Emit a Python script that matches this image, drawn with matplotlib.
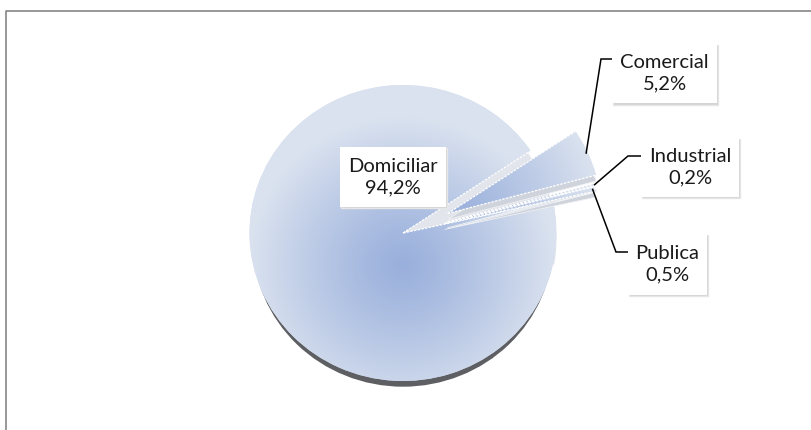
import numpy as np
import matplotlib.pyplot as plt
from matplotlib.patches import Wedge, Rectangle

# datos: consumo por tipo de usuario
categorias = ['Domiciliar', 'Comercial', 'Industrial', 'Publica']
porcentajes = [94.2, 5.2, 0.2, 0.5]
separacion = [0.0, 0.32, 0.30, 0.28]   # fracción del radio

W, H = 812, 430
ESC_Y = 0.964          # achatado vertical (efecto 3D)
GROSOR = 6             # grosor de las porciones, px

plt.rcParams['font.family'] = ['Lato', 'DejaVu Sans']

fig = plt.figure(figsize=(W / 100, H / 100), dpi=100)
ax = fig.add_axes([0, 0, 1, 1])


def px(x, y):
    # coordenadas de pantalla (origen arriba-izquierda) -> datos
    return x, (H - y) / ESC_Y


c_in = np.array([154, 176, 220]) / 255
c_out = np.array([218, 226, 239]) / 255


def degradado(cuna, foco_dy, z):
    x0, y0 = cuna.center
    r = cuna.r
    n = 300
    X, Y = np.meshgrid(np.linspace(x0 - r, x0 + r, n), np.linspace(y0 - r, y0 + r, n))
    d = np.hypot(X - x0, Y - (y0 + foco_dy)) / r
    t = np.clip(d, 0, 1) ** 1.2
    rgb = (1 - t)[..., None] * c_in + t[..., None] * c_out
    im = ax.imshow(rgb, extent=(x0 - r, x0 + r, y0 - r, y0 + r), origin='lower',
                   aspect='auto', interpolation='bilinear', zorder=z)
    im.set_clip_path(cuna)


def bordes(cuna, z):
    x0, y0 = cuna.center
    for th in (cuna.theta1, cuna.theta2):
        a = np.radians(th)
        ax.plot([x0, x0 + cuna.r * np.cos(a)], [y0, y0 + cuna.r * np.sin(a)],
                color='white', lw=0.9, ls=(0, (2, 1)), zorder=z)


cx, cy = px(403, 233)
R = 153.5
cunas, _ = ax.pie(porcentajes, explode=[e * R for e in separacion], startangle=12.5,
                  counterclock=False, radius=R, center=(cx, cy),
                  wedgeprops=dict(linewidth=0, facecolor=tuple(c_out)))

dz = GROSOR / ESC_Y

# porción principal: cara lateral clara en el corte y borde oscuro inferior
dom = cunas[0]
dom.set_zorder(2)
ax.add_patch(Wedge((dom.center[0], dom.center[1] - dz), dom.r, -10, 60,
                   facecolor='#e2e5eb', edgecolor='none', zorder=1.2))
ax.add_patch(Wedge((dom.center[0], dom.center[1] - 9 / ESC_Y), dom.r - 3.4, 180, 360,
                   facecolor='#5e5f62', edgecolor='none', zorder=1.3))
degradado(dom, -32 / ESC_Y, 2.1)
bordes(dom, 2.2)

# porciones separadas, de atrás hacia adelante
for i, w in enumerate(cunas[1:]):
    z = 3 + i
    w.set_zorder(z + 0.2)
    ax.add_patch(Wedge((w.center[0], w.center[1] - dz), w.r, w.theta1, w.theta2,
                       facecolor='#cfd3db', edgecolor='#eef0f3', lw=0.6, zorder=z))
    degradado(w, 0, z + 0.3)
    bordes(w, z + 0.4)

# etiquetas
cajas = {
    'Domiciliar': (340, 147, 106, 60),
    'Comercial': (612, 43, 105, 60),
    'Industrial': (641, 137, 98, 60),
    'Publica': (628, 234, 79, 61),
}
codos = {'Comercial': (601, 59), 'Industrial': (628, 156), 'Publica': (616, 252)}

for w, nombre, valor in zip(cunas, categorias, porcentajes):
    bx, by, bw, bh = cajas[nombre]
    x0, y0 = px(bx, by + bh)
    ax.add_patch(Rectangle((x0 + 1.5, y0 - 1.5 / ESC_Y), bw, bh / ESC_Y,
                           facecolor='#d4d4d4', edgecolor='#e6e6e6', lw=1, zorder=9))
    ax.add_patch(Rectangle((x0, y0), bw, bh / ESC_Y, facecolor='white',
                           edgecolor='none', zorder=10))
    tx, ty = px(bx + bw / 2, by + bh / 2)
    texto = f'{nombre}\n{valor:.1f}%'.replace('.', ',')
    ax.text(tx, ty, texto, ha='center', va='center', fontsize=14.5, color='#1a1a1a',
            linespacing=1.3, zorder=11)

    if nombre in codos:
        a = np.radians((w.theta1 + w.theta2) / 2)
        xa = w.center[0] + w.r * 0.99 * np.cos(a)
        ya = w.center[1] + w.r * 0.99 * np.sin(a)
        ex, ey = px(*codos[nombre])
        ax.plot([xa, ex, bx], [ya, ey, ey], color='black', lw=1.1, zorder=8,
                solid_joinstyle='miter')

ax.set_xlim(0, W)
ax.set_ylim(0, H / ESC_Y)
ax.set_aspect(ESC_Y)
ax.axis('off')

# marco del área del gráfico
fig.add_artist(plt.Line2D([6 / W, 6 / W, 1], [0, 1 - 10.5 / H, 1 - 10.5 / H],
                          color='#868686', lw=1.2, transform=fig.transFigure))

fig.savefig('out.png', dpi=100, facecolor='white')
